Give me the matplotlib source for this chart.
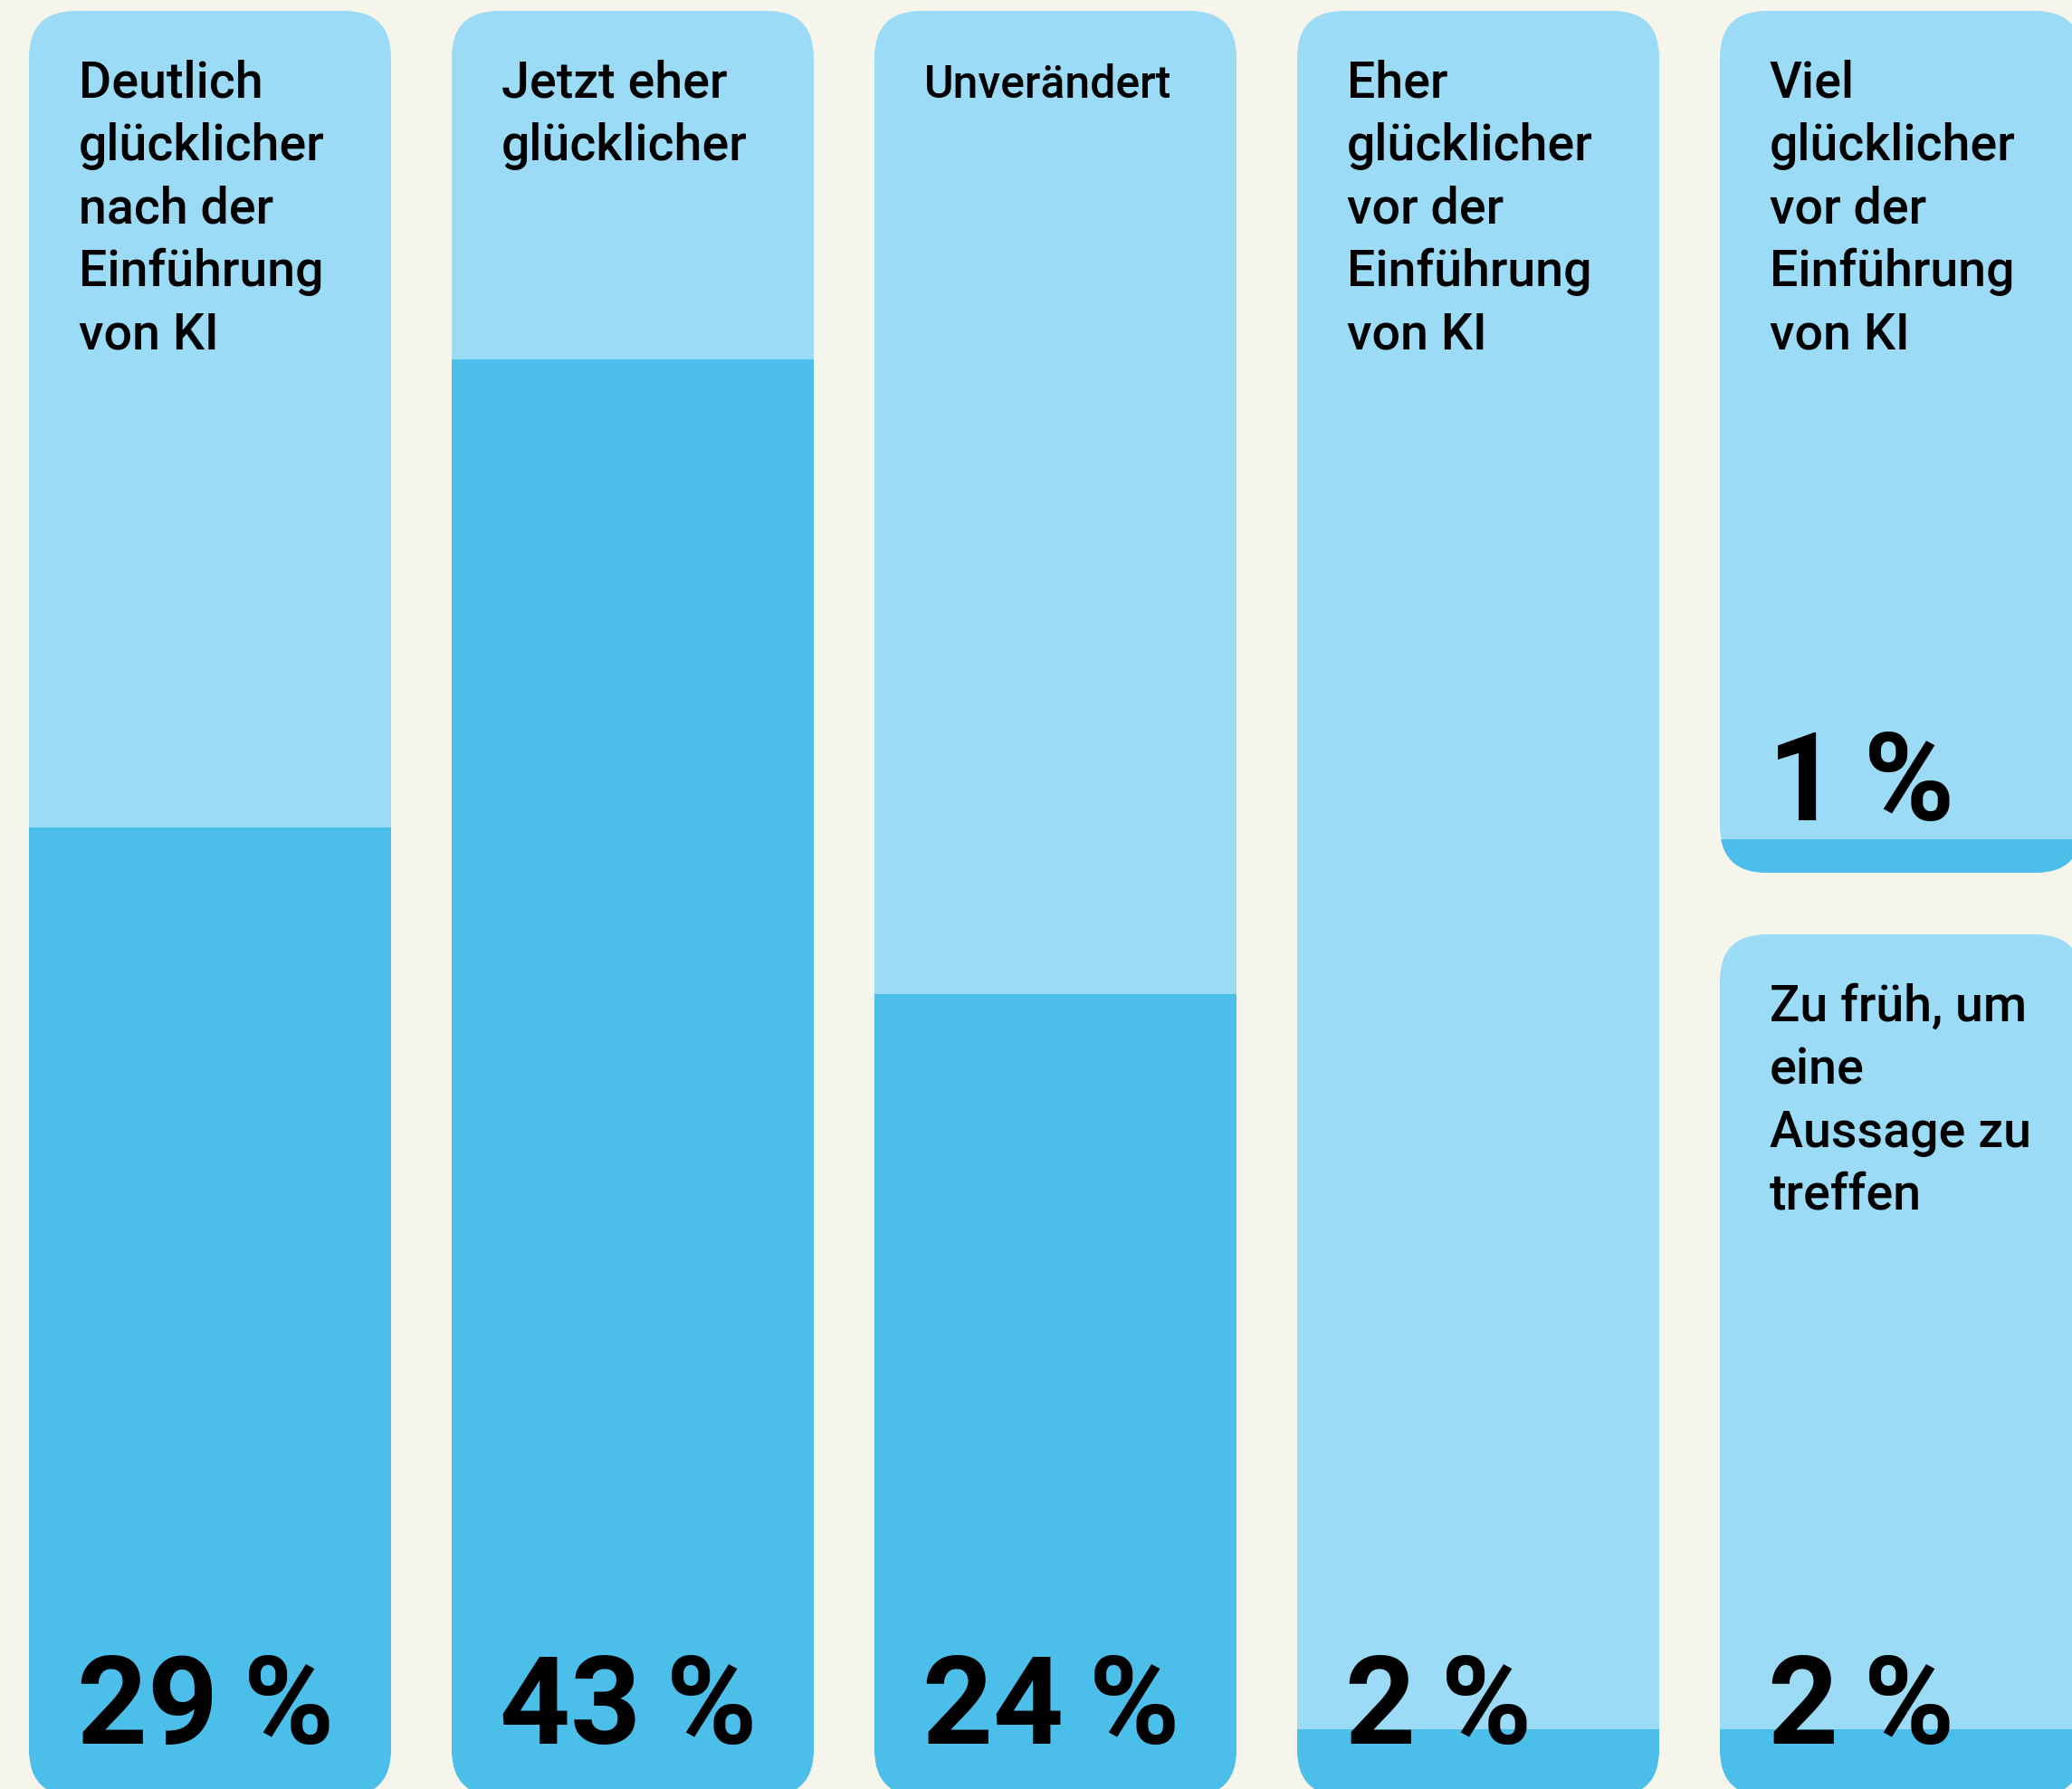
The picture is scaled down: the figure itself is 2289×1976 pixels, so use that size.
import matplotlib
matplotlib.use("Agg")
import matplotlib.pyplot as plt
from matplotlib.patches import FancyBboxPatch

# data
labels = [
    "Deutlich\nglücklicher\nnach der\nEinführung\nvon KI",
    "Jetzt eher\nglücklicher",
    "Unverändert",
    "Eher\nglücklicher\nvor der\nEinführung\nvon KI",
    "Viel\nglücklicher\nvor der\nEinführung\nvon KI",
    "Zu früh, um\neine\nAussage zu\ntreffen",
]
values = [29, 43, 24, 2, 1, 2]
columns = [0, 1, 2, 3, 4, 4]

# layout (pixels, figure is 2289 x 1976 at dpi 100)
W, H, DPI = 2289, 1976, 100
PX_PER_PCT = 36.9          # bar scale
PITCH = 467                # card pitch
CARD_W = 400
LEFT = 32
BOTTOM_PX = 1984           # card bottom (slightly below the figure edge)
TOP_PX = 12
RADIUS = 52
SPLIT_UPPER_PX = 964       # bottom of upper card in last column
SPLIT_LOWER_PX = 1032      # top of lower card in last column

BG = "#F5F5EB"
LIGHT = "#9BDBF5"
DARK = "#4CBEEA"
FONT = ["Roboto", "DejaVu Sans"]

def px2pct(py):
    return (BOTTOM_PX - py) / PX_PER_PCT

# card spans in % units (bottom, top)
card_spans = [(0, px2pct(TOP_PX))] * 4 + [
    (px2pct(SPLIT_UPPER_PX), px2pct(TOP_PX)),
    (0, px2pct(SPLIT_LOWER_PX)),
]
label_sizes = [40, 40, 36, 40, 40, 40]

fig = plt.figure(figsize=(W / DPI, H / DPI), dpi=DPI)
fig.patch.set_facecolor(BG)
ax = fig.add_axes([0, 0, 1, 1])
ax.set_facecolor(BG)
x0 = -LEFT / PITCH
ax.set_xlim(x0, x0 + W / PITCH)
ax.set_ylim(px2pct(H), px2pct(0))
ax.axis("off")

cw = CARD_W / PITCH
r_x = RADIUS / PITCH
aspect = PITCH / PX_PER_PCT

for lab, val, col, (b, t), fs in zip(labels, values, columns, card_spans,
                                     label_sizes):
    card = FancyBboxPatch((col, b), cw, t - b,
                          boxstyle=f"round,pad=0,rounding_size={r_x}",
                          mutation_aspect=aspect, facecolor=LIGHT,
                          edgecolor="none", zorder=1)
    ax.add_patch(card)
    bars = ax.bar(col, val, width=cw, bottom=b, align="edge",
                  color=DARK, zorder=2)
    for bar in bars:
        bar.set_clip_path(card)

    for i, line in enumerate(lab.split("\n")):
        ax.annotate(line, xy=(col, t), xytext=(55, -96 - i * 69.3),
                    textcoords="offset pixels", ha="left", va="baseline",
                    fontsize=fs, family=FONT, fontweight="medium",
                    color="black", zorder=3, annotation_clip=False)

    ax.annotate(f"{val}\u2009%", xy=(col, b), xytext=(53, 58),
                textcoords="offset pixels", ha="left", va="baseline",
                fontsize=98, family=FONT, fontweight="bold",
                color="black", zorder=3, annotation_clip=False)

fig.savefig("out.png", dpi=DPI, facecolor=BG)
